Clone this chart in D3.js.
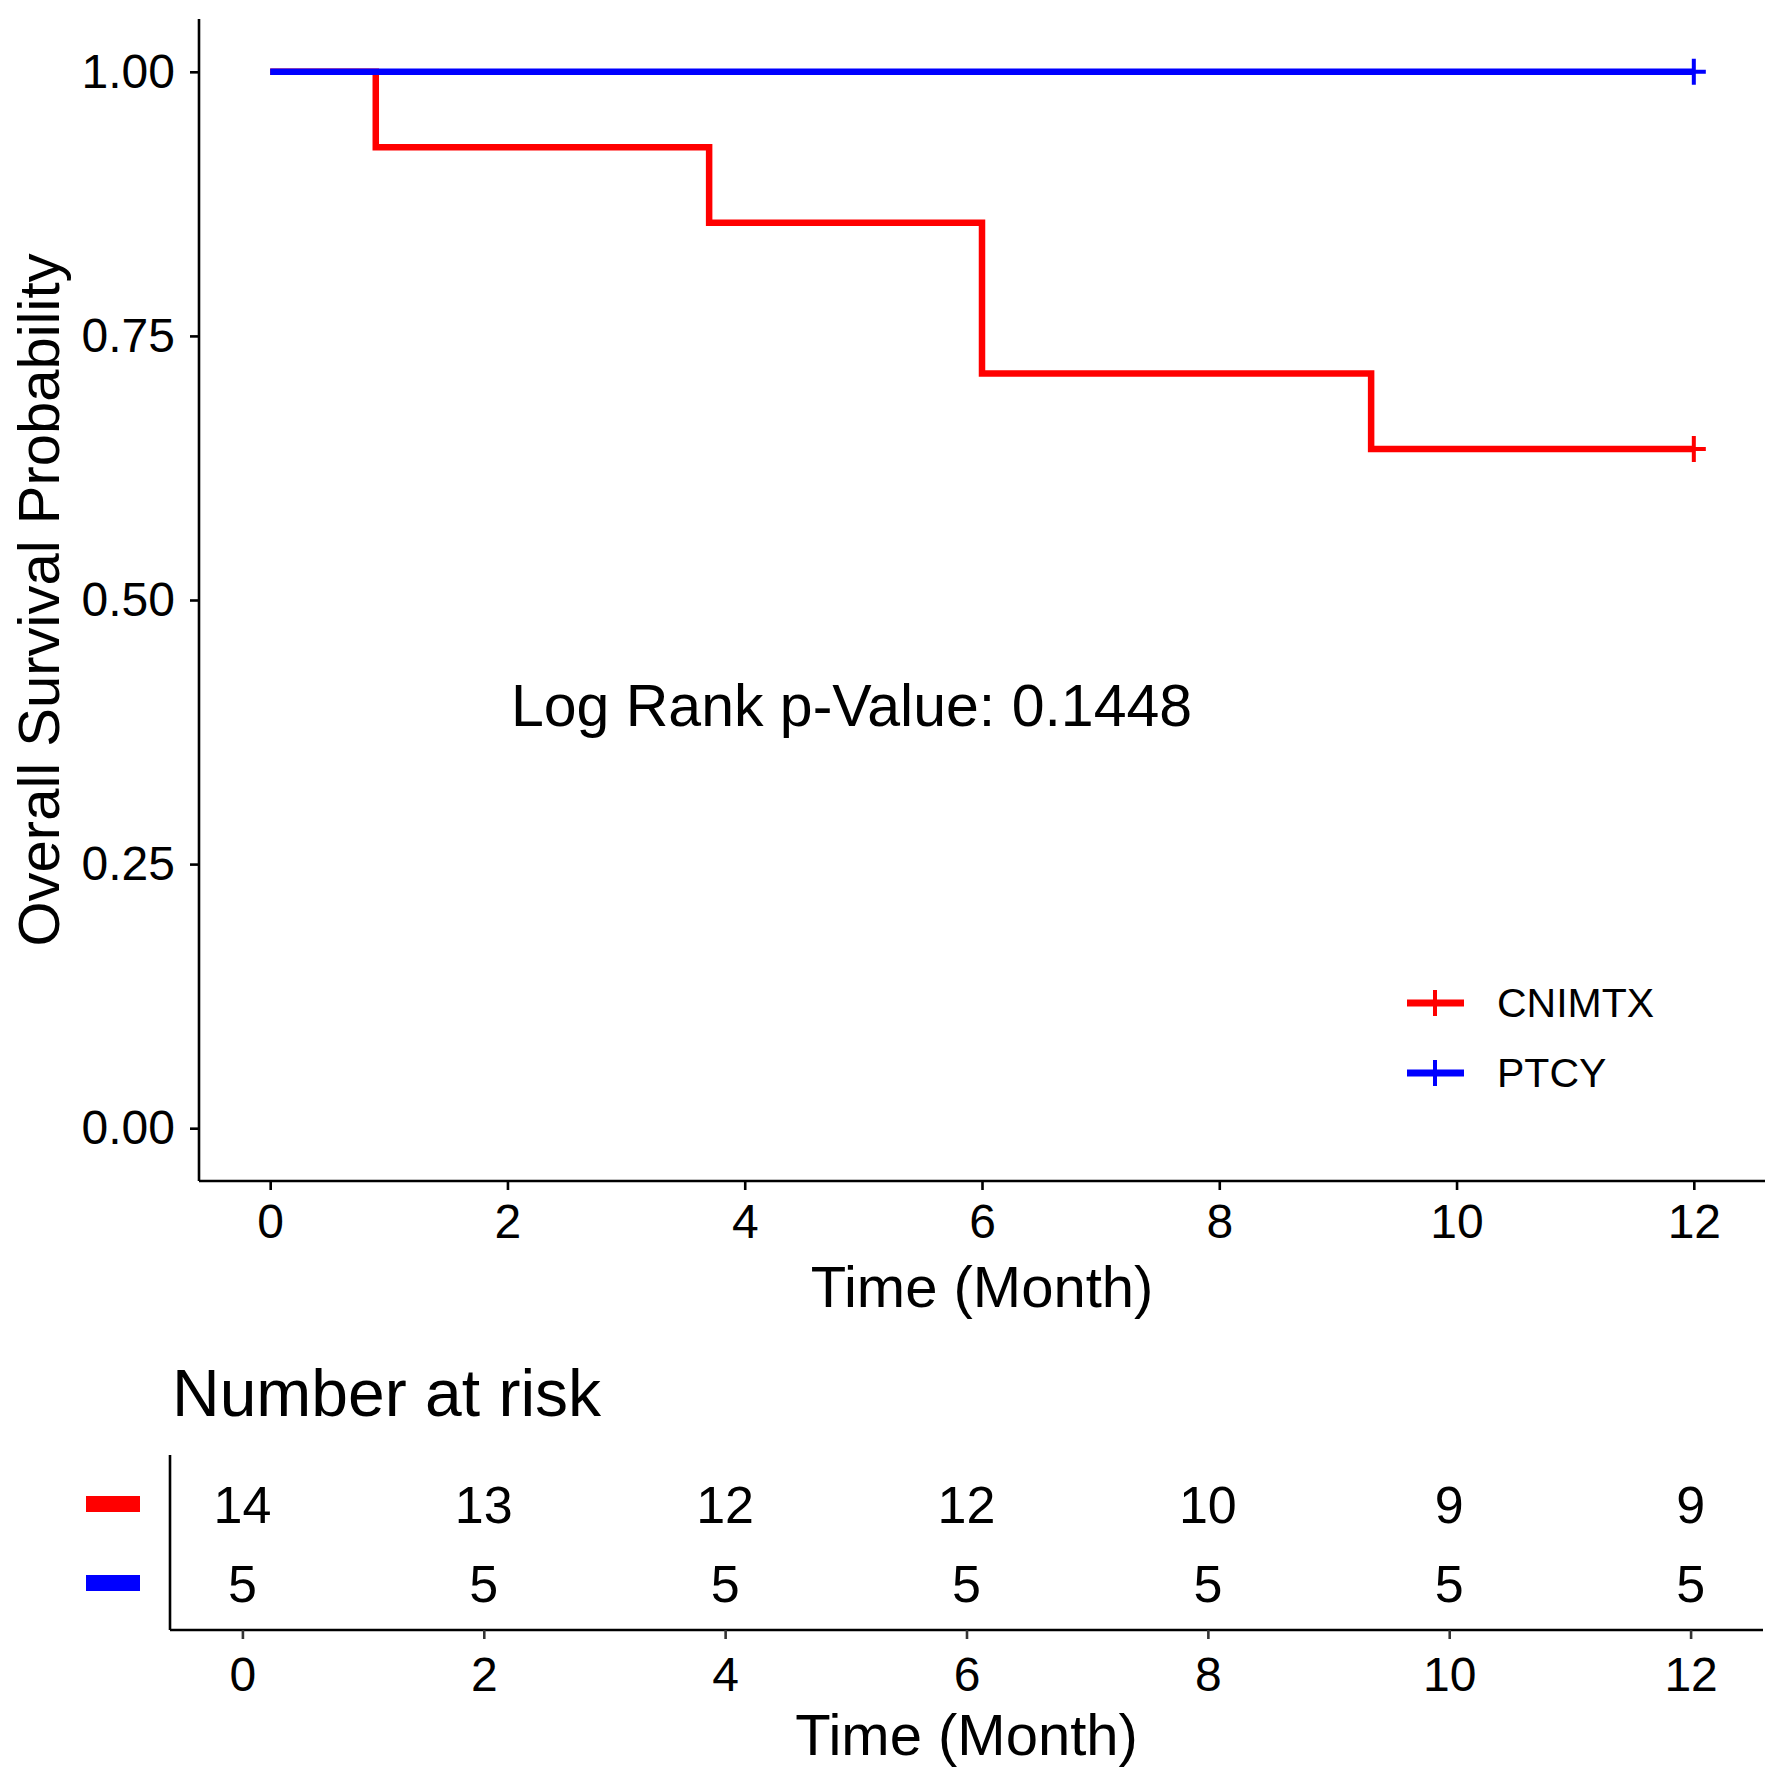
<!DOCTYPE html>
<html>
<head>
<meta charset="utf-8">
<script src="https://cdn.jsdelivr.net/npm/d3@7"></script>
<style>
  body { margin: 0; background: #fff; }
  svg { display: block; font-family: "Liberation Sans", Arial, sans-serif; }
</style>
</head>
<body>
<div id="container"></div>
<script>
// survival curves (time in months, survival probability)
const groups = ["CNIMTX", "PTCY"];
const colors = ["#ff0000", "#0000ff"];
const cnimtxTime = [0, 0.89, 3.70, 6.0, 9.28, 12];
const cnimtxSurv = [1, 0.9286, 0.8571, 0.7143, 0.6429, 0.6429];
const ptcyTime = [0, 12];
const ptcySurv = [1, 1];
const cnimtxCensor = [12];
const ptcyCensor = [12];

// number at risk table
const riskTimes = [0, 2, 4, 6, 8, 10, 12];
const riskCnimtx = [14, 13, 12, 12, 10, 9, 9];
const riskPtcy = [5, 5, 5, 5, 5, 5, 5];

const xTicks = [0, 2, 4, 6, 8, 10, 12];
const yTicks = [0, 0.25, 0.5, 0.75, 1];
const pValueText = "Log Rank p-Value: 0.1448";

const width = 1772;
const height = 1774;

const svg = d3.select("#container")
  .append("svg")
  .attr("width", width)
  .attr("height", height);

// ---------- survival plot ----------
const plot = { left: 199, right: 1765, top: 19, bottom: 1181 };

const x = d3.scaleLinear().domain([-0.6, 12.6]).range([plot.left, plot.right]);
const y = d3.scaleLinear().domain([-0.05, 1.05]).range([plot.bottom, plot.top]);

const xAxis = d3.axisBottom(x)
  .tickValues(xTicks)
  .tickFormat(d3.format("d"))
  .tickSize(9)
  .tickPadding(14)
  .tickSizeOuter(0);

const yAxis = d3.axisLeft(y)
  .tickValues(yTicks)
  .tickFormat(d3.format(".2f"))
  .tickSize(9)
  .tickPadding(15)
  .tickSizeOuter(0);

const gx = svg.append("g")
  .attr("transform", `translate(0, ${plot.bottom})`)
  .call(xAxis);
gx.select(".domain").attr("d", `M${plot.left},0H${plot.right}`);

const gy = svg.append("g")
  .attr("transform", `translate(${plot.left}, 0)`)
  .call(yAxis);
gy.select(".domain").attr("d", `M0,${plot.top}V${plot.bottom}`);

[gx, gy].forEach((g) => {
  g.selectAll(".domain, .tick line").attr("stroke", "#000").attr("stroke-width", 2.6);
  g.selectAll(".tick text")
    .attr("fill", "#000")
    .style("font-size", "48px")
    .style("font-family", "Liberation Sans, Arial, sans-serif");
});

svg.append("text")
  .attr("x", x(6))
  .attr("y", 1307)
  .attr("text-anchor", "middle")
  .style("font-size", "58px")
  .text("Time (Month)");

svg.append("text")
  .attr("transform", `translate(59, ${y(0.5)}) rotate(-90)`)
  .attr("text-anchor", "middle")
  .style("font-size", "58px")
  .text("Overall Survival Probability");

const stepLine = d3.line()
  .x((d) => x(d[0]))
  .y((d) => y(d[1]))
  .curve(d3.curveStepAfter);

const series = [
  { name: groups[0], color: colors[0], pts: d3.zip(cnimtxTime, cnimtxSurv), censor: cnimtxCensor },
  { name: groups[1], color: colors[1], pts: d3.zip(ptcyTime, ptcySurv), censor: ptcyCensor },
];

function survAt(pts, t) {
  let s = pts[0][1];
  pts.forEach((p) => { if (p[0] <= t) s = p[1]; });
  return s;
}

const curves = svg.append("g").attr("class", "curves");
series.forEach((s) => {
  curves.append("path")
    .attr("d", stepLine(s.pts))
    .attr("fill", "none")
    .attr("stroke", s.color)
    .attr("stroke-width", 6.5);

  s.censor.forEach((t) => {
    const cx = x(t), cy = y(survAt(s.pts, t));
    curves.append("path")
      .attr("d", `M${cx - 12},${cy}H${cx + 12}M${cx},${cy - 13}V${cy + 13}`)
      .attr("stroke", s.color)
      .attr("stroke-width", 4)
      .attr("fill", "none");
  });
});

svg.append("text")
  .attr("x", x(4.9))
  .attr("y", y(0.4))
  .attr("dy", "0.35em")
  .attr("text-anchor", "middle")
  .style("font-size", "59px")
  .text(pValueText);

// legend
const legend = svg.append("g").attr("class", "legend");
series.forEach((s, i) => {
  const ly = 1003 + i * 70;
  legend.append("path")
    .attr("d", `M1407,${ly}H1464`)
    .attr("stroke", s.color)
    .attr("stroke-width", 7);
  legend.append("path")
    .attr("d", `M1435,${ly - 13}V${ly + 13}`)
    .attr("stroke", s.color)
    .attr("stroke-width", 4);
  legend.append("text")
    .attr("x", 1497)
    .attr("y", ly)
    .attr("dy", "0.35em")
    .style("font-size", "41px")
    .text(s.name);
});

// ---------- risk table ----------
const tbl = { left: 170, right: 1763, top: 1455, bottom: 1630 };

svg.append("text")
  .attr("x", 172)
  .attr("y", 1416)
  .style("font-size", "66px")
  .text("Number at risk");

const xr = d3.scaleLinear().domain([-0.6, 12.6]).range([tbl.left, tbl.right]);
const yr = d3.scalePoint().domain(groups).range([1504, 1583]);

const gxr = svg.append("g")
  .attr("transform", `translate(0, ${tbl.bottom})`)
  .call(d3.axisBottom(xr)
    .tickValues(xTicks)
    .tickFormat(d3.format("d"))
    .tickSize(9)
    .tickPadding(18)
    .tickSizeOuter(0));
gxr.select(".domain").attr("d", `M${tbl.left},0H${tbl.right}`);
gxr.selectAll(".domain").attr("stroke", "#000").attr("stroke-width", 2.6);
gxr.selectAll(".tick line").attr("stroke", "#333").attr("stroke-width", 2.6);
gxr.selectAll(".tick text")
  .attr("fill", "#000")
  .style("font-size", "48px")
  .style("font-family", "Liberation Sans, Arial, sans-serif");

svg.append("path")
  .attr("d", `M${tbl.left},${tbl.top}V${tbl.bottom}`)
  .attr("stroke", "#000")
  .attr("stroke-width", 2.6);

svg.append("text")
  .attr("x", xr(6))
  .attr("y", 1755)
  .attr("text-anchor", "middle")
  .style("font-size", "58px")
  .text("Time (Month)");

const riskRows = [riskCnimtx, riskPtcy];
riskRows.forEach((row, i) => {
  svg.append("rect")
    .attr("x", 86)
    .attr("y", yr(groups[i]) - 8)
    .attr("width", 54)
    .attr("height", 16)
    .attr("fill", colors[i]);

  svg.append("g")
    .selectAll("text")
    .data(row)
    .enter()
    .append("text")
    .attr("x", (d, j) => xr(riskTimes[j]))
    .attr("y", yr(groups[i]))
    .attr("dy", "0.36em")
    .attr("text-anchor", "middle")
    .style("font-size", "52px")
    .text((d) => d);
});
</script>
</body>
</html>
